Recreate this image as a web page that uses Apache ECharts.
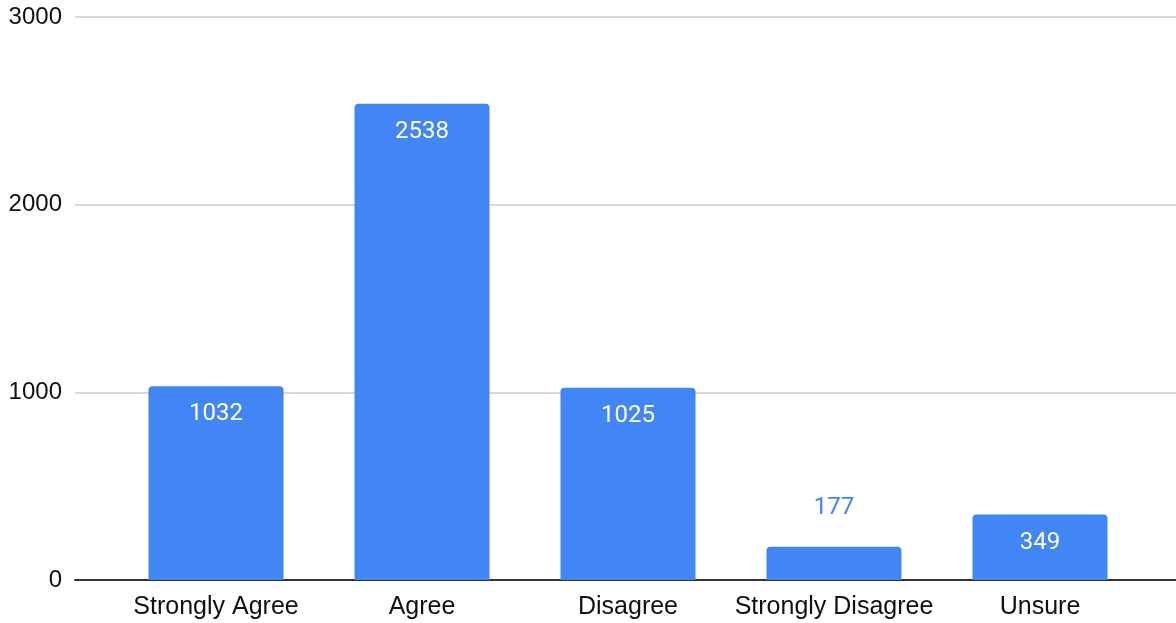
<!DOCTYPE html>
<html>
<head>
<meta charset="utf-8">
<script src="https://cdn.jsdelivr.net/npm/echarts@6/dist/echarts.min.js"></script>
<style>
  html, body { margin: 0; padding: 0; background: #fff; }
  #chart { width: 1176px; height: 623px; }
</style>
</head>
<body>
<div id="chart"></div>
<script>
// answers and counts
const categories = ['Strongly Agree', 'Agree', 'Disagree', 'Strongly Disagree', 'Unsure'];
const counts = [1032, 2538, 1025, 177, 349];
const yTicks = [0, 1000, 2000, 3000];

const BLUE = '#4285F4';

const chart = echarts.init(document.getElementById('chart'));

// small bars get their label above the bar, like the sheets chart does
const barData = counts.map(function (v) {
  if (v < 300) {
    return { value: v, label: { position: 'top', distance: 27, color: BLUE } };
  }
  return v;
});

const option = {
  animation: false,
  grid: [
    { left: 113, right: 33, top: 17, bottom: 43 },   // bars
    { left: 75, right: 0, top: 17, bottom: 43 }      // gridlines + y labels
  ],
  xAxis: [
    {
      type: 'category',
      gridIndex: 0,
      data: categories,
      axisLine: { show: false },
      axisTick: { show: false },
      axisLabel: { color: '#111', fontSize: 25, fontFamily: 'Liberation Sans', margin: 15, interval: 0 }
    },
    {
      type: 'value',
      gridIndex: 1,
      min: 0, max: 1,
      axisLine: { show: true, lineStyle: { color: '#333', width: 2 } },
      axisTick: { show: false },
      axisLabel: { show: false },
      splitLine: { show: false }
    }
  ],
  yAxis: [
    {
      type: 'value',
      gridIndex: 0,
      min: yTicks[0], max: yTicks[yTicks.length - 1], interval: 1000,
      show: false
    },
    {
      type: 'value',
      gridIndex: 1,
      min: yTicks[0], max: yTicks[yTicks.length - 1], interval: 1000,
      axisLine: { show: false },
      axisTick: { show: false },
      axisLabel: {
        color: '#111', fontSize: 24, fontFamily: 'Liberation Sans', margin: 13,
        formatter: function (v) { return String(v); }
      },
      splitLine: { lineStyle: { color: '#ccc', width: 1.5 } }
    }
  ],
  series: [
    {
      type: 'bar',
      xAxisIndex: 0,
      yAxisIndex: 0,
      data: barData,
      barWidth: 135,
      z: 3,
      itemStyle: { color: BLUE, borderRadius: [4, 4, 0, 0] },
      label: {
        show: true,
        position: 'insideTop',
        distance: 16,
        color: '#fff',
        fontSize: 24,
        fontFamily: 'Roboto'
      }
    }
  ]
};

chart.setOption(option);
</script>
</body>
</html>
